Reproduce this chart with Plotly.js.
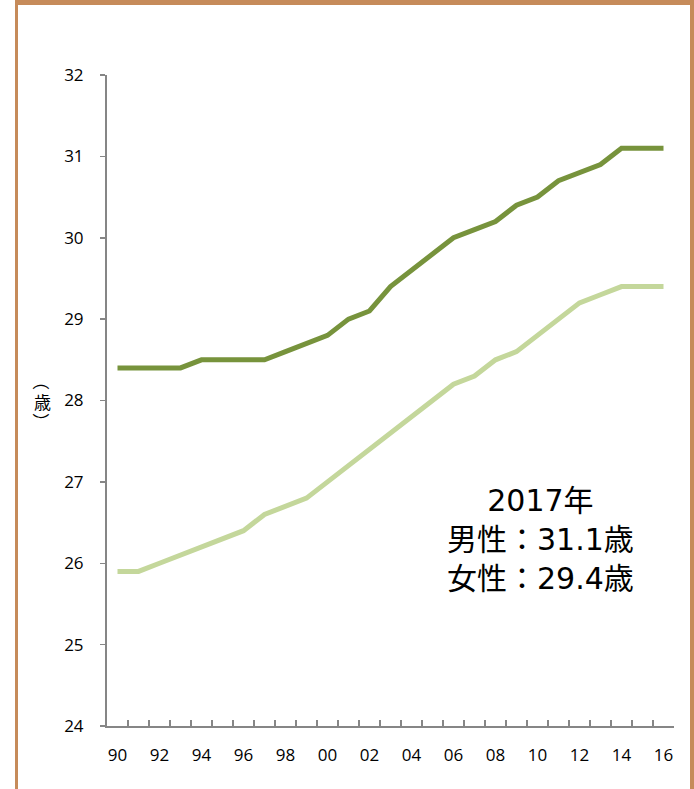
<!DOCTYPE html>
<html>
<head>
<meta charset="utf-8">
<script src="https://cdn.plot.ly/plotly-3.0.1.min.js"></script>
<style>
  html, body { margin: 0; padding: 0; background: #ffffff; }
  #frame { position: absolute; left: 15px; top: 0; width: 672px; height: 789px;
           border-left: 3px solid #C68B5A; border-right: 4px solid #C68B5A; border-top: 5px solid #C68B5A; }
  #chart { position: absolute; left: 0; top: 0; width: 694px; height: 789px; }
</style>
</head>
<body>
<div id="frame"></div>
<div id="chart"></div>
<script>
const years = [1990,1991,1992,1993,1994,1995,1996,1997,1998,1999,2000,2001,2002,2003,2004,2005,2006,2007,2008,2009,2010,2011,2012,2013,2014,2015,2016];
const male   = [28.4,28.4,28.4,28.4,28.5,28.5,28.5,28.5,28.6,28.7,28.8,29.0,29.1,29.4,29.6,29.8,30.0,30.1,30.2,30.4,30.5,30.7,30.8,30.9,31.1,31.1,31.1];
const female = [25.9,25.9,26.0,26.1,26.2,26.3,26.4,26.6,26.7,26.8,27.0,27.2,27.4,27.6,27.8,28.0,28.2,28.3,28.5,28.6,28.8,29.0,29.2,29.3,29.4,29.4,29.4];
const xLabelYears = [1990,1992,1994,1996,1998,2000,2002,2004,2006,2008,2010,2012,2014,2016];
const xLabels = ['90','92','94','96','98','00','02','04','06','08','10','12','14','16'];
const yTicks = [24,25,26,27,28,29,30,31,32];
const yTitleParts = ['（', '歳', '）'];
const noteText = '2017年<br>男性：31.1歳<br>女性：29.4歳';

const boundaries = [years[0]-0.5].concat(years.map(y => y + 0.5));
const fontFam = '"Noto Sans CJK JP", "Noto Sans", sans-serif';
const tickFam = '"Open Sans", "Noto Sans CJK JP", sans-serif';
const noteFam = '"DejaVu Sans", "Noto Sans CJK JP", sans-serif';

const traces = [
  { x: years, y: female, type: 'scatter', mode: 'lines', name: '女性',
    line: { color: '#C4D79B', width: 5 }, hoverinfo: 'skip' },
  { x: years, y: male, type: 'scatter', mode: 'lines', name: '男性',
    line: { color: '#77933C', width: 5 }, hoverinfo: 'skip' },
  { x: years, y: male, xaxis: 'x2', type: 'scatter', mode: 'lines',
    line: { width: 0 }, opacity: 0, showlegend: false, hoverinfo: 'skip' }
];

const yTitleY = [381, 401, 421];
const annotations = yTitleParts.map((t, i) => ({
  xref: 'paper', yref: 'paper', x: (42 - 107) / 567, y: (726 - yTitleY[i]) / 651,
  xanchor: 'center', yanchor: 'middle', showarrow: false, text: t,
  textangle: i === 1 ? 0 : 90,
  font: { family: fontFam, size: 17, color: '#000000' }
}));
annotations.push({
  xref: 'paper', yref: 'paper', x: (540 - 107) / 567, y: (726 - 539) / 651,
  xanchor: 'center', yanchor: 'middle', showarrow: false, text: noteText, align: 'center',
  font: { family: noteFam, size: 30, color: '#000000' }
});

const layout = {
  width: 694, height: 789,
  paper_bgcolor: 'rgba(0,0,0,0)', plot_bgcolor: 'rgba(0,0,0,0)',
  margin: { l: 107, r: 20, t: 75, b: 63 },
  showlegend: false,
  font: { family: fontFam, size: 17, color: '#000000' },
  xaxis: {
    range: [1989.5, 2016.5], tickmode: 'array', tickvals: boundaries,
    showticklabels: false, ticks: 'inside', ticklen: 6, tickwidth: 1.5, tickcolor: '#868686',
    showline: true, linecolor: '#868686', linewidth: 2, showgrid: false, zeroline: false, fixedrange: true
  },
  xaxis2: {
    range: [1989.5, 2016.5], overlaying: 'x', anchor: 'y', side: 'bottom',
    tickmode: 'array', tickvals: xLabelYears, ticktext: xLabels, ticks: '',
    ticklabelstandoff: 17,
    showline: false, showgrid: false, zeroline: false, fixedrange: true,
    tickfont: { family: tickFam, size: 17, color: '#000000' }
  },
  yaxis: {
    range: [24, 32], tickmode: 'array', tickvals: yTicks,
    ticks: 'outside', ticklen: 5, tickwidth: 1.5, tickcolor: '#868686',
    ticklabelstandoff: 13,
    showline: true, linecolor: '#868686', linewidth: 2, showgrid: false, zeroline: false, fixedrange: true,
    tickfont: { family: tickFam, size: 17, color: '#000000' }
  },
  annotations: annotations
};

Plotly.newPlot('chart', traces, layout, { displayModeBar: false, staticPlot: true });
</script>
</body>
</html>
